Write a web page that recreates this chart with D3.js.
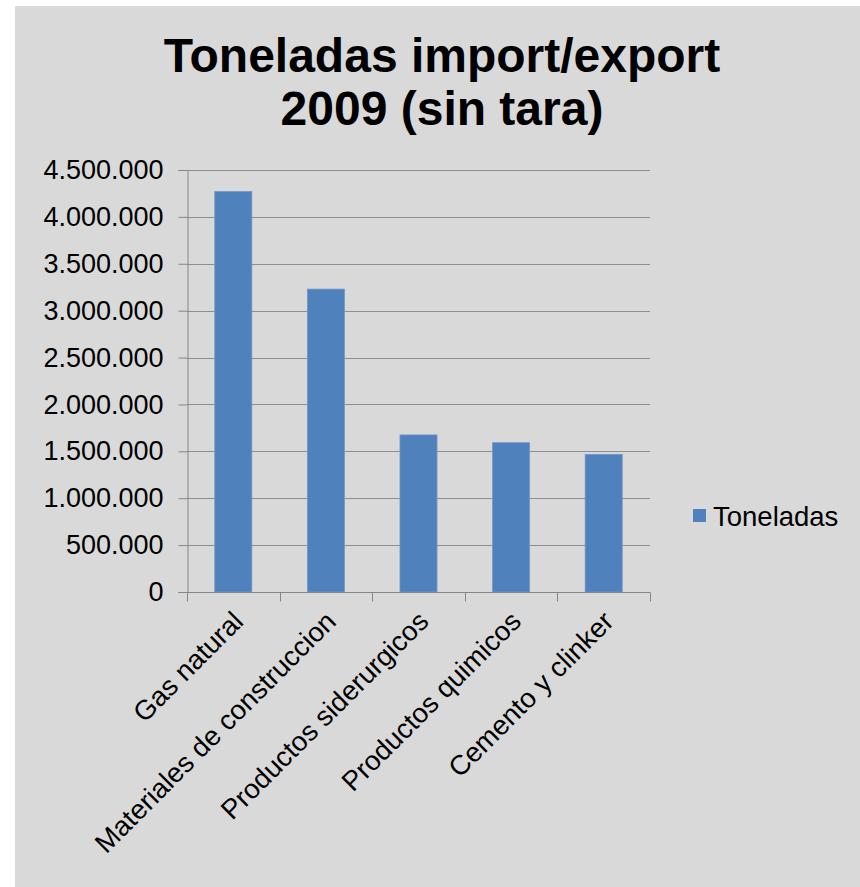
<!DOCTYPE html>
<html>
<head>
<meta charset="utf-8">
<script src="https://cdn.jsdelivr.net/npm/d3@7"></script>
<style>
  body { margin: 0; background: white; }
</style>
</head>
<body>
<div id="chart"></div>
<script>
const categories = ["Gas natural", "Materiales de construccion", "Productos siderurgicos", "Productos quimicos", "Cemento y clinker"];
const toneladas = [4270000, 3230000, 1675000, 1592000, 1468000];
const yTicks = [0, 500000, 1000000, 1500000, 2000000, 2500000, 3000000, 3500000, 4000000, 4500000];
const titleLines = ["Toneladas import/export", "2009 (sin tara)"];
const seriesName = "Toneladas";

const W = 860, H = 887;
const PLOT = { LEFT: 187, RIGHT: 650, TOP: 170, BOTTOM: 592 };
const FONT = "Liberation Sans, Arial, sans-serif";

const svg = d3.select("#chart")
  .append("svg")
  .attr("width", W)
  .attr("height", H);

svg.append("rect")
  .attr("x", 15).attr("y", 6)
  .attr("width", W - 15).attr("height", H - 6)
  .attr("fill", "#d9d9d9");

// title
svg.append("text")
  .attr("text-anchor", "middle")
  .style("font-family", FONT)
  .style("font-weight", 700)
  .style("font-size", "48px")
  .selectAll("tspan")
  .data(titleLines)
  .join("tspan")
    .attr("x", 442)
    .attr("y", (d, i) => 72 + i * 53)
    .text(d => d);

const x = d3.scaleBand()
  .domain(categories)
  .range([PLOT.LEFT, PLOT.RIGHT])
  .paddingInner(0.6)
  .paddingOuter(0.3);

const y = d3.scaleLinear()
  .domain([0, 4500000])
  .range([PLOT.BOTTOM, PLOT.TOP]);

const fmt = v => d3.format(",")(v).replace(/,/g, ".");

// gridlines
svg.append("g")
  .selectAll("line")
  .data(yTicks.slice(1))
  .join("line")
    .attr("x1", PLOT.LEFT).attr("x2", PLOT.RIGHT)
    .attr("y1", d => Math.round(y(d)) + 0.5)
    .attr("y2", d => Math.round(y(d)) + 0.5)
    .attr("stroke", "#8e8e8e")
    .attr("stroke-width", 1);

// y axis
const yAxis = svg.append("g")
  .attr("transform", `translate(${PLOT.LEFT + 0.5},0)`)
  .call(d3.axisLeft(y).tickValues(yTicks).tickFormat(fmt).tickSize(9).tickPadding(15));
yAxis.select(".domain").attr("stroke", "#868686");
yAxis.selectAll(".tick line").attr("stroke", "#868686");
yAxis.selectAll(".tick text")
  .attr("fill", "#000")
  .style("font-family", FONT)
  .style("font-size", "27px");

// bars
svg.append("g")
  .selectAll("rect")
  .data(toneladas)
  .join("rect")
    .attr("x", (d, i) => x(categories[i]))
    .attr("y", d => y(d))
    .attr("width", x.bandwidth())
    .attr("height", d => y(0) - y(d))
    .attr("fill", "#4f81bd")
    .attr("stroke", "#7396c6")
    .attr("stroke-width", 0.8);

// x axis with ticks at category boundaries
const xAxisG = svg.append("g")
  .attr("transform", `translate(0,${PLOT.BOTTOM + 0.5})`);
xAxisG.append("line")
  .attr("x1", PLOT.LEFT).attr("x2", PLOT.RIGHT)
  .attr("stroke", "#868686");
const boundaries = categories.map(c => x(c) - x.step() * x.paddingInner() / 2)
  .concat([PLOT.RIGHT]);
xAxisG.selectAll(".bt")
  .data(boundaries)
  .join("line")
    .attr("class", "bt")
    .attr("x1", d => Math.round(d) + 0.5).attr("x2", d => Math.round(d) + 0.5)
    .attr("y1", 0).attr("y2", 9)
    .attr("stroke", "#868686");
xAxisG.selectAll("text")
  .data(categories)
  .join("text")
    .attr("transform", d => `translate(${x(d) + x.bandwidth() / 2 - 2},${17}) rotate(-45)`)
    .attr("text-anchor", "end")
    .attr("dy", "0.7em")
    .style("font-family", FONT)
    .style("font-size", "27.5px")
    .text(d => d);

// legend
const legend = svg.append("g").attr("transform", "translate(693,509)");
legend.append("rect")
  .attr("width", 13).attr("height", 13)
  .attr("fill", "#4f81bd");
legend.append("text")
  .attr("x", 20).attr("y", 17)
  .style("font-family", FONT)
  .style("font-size", "27.5px")
  .text(seriesName);
</script>
</body>
</html>
